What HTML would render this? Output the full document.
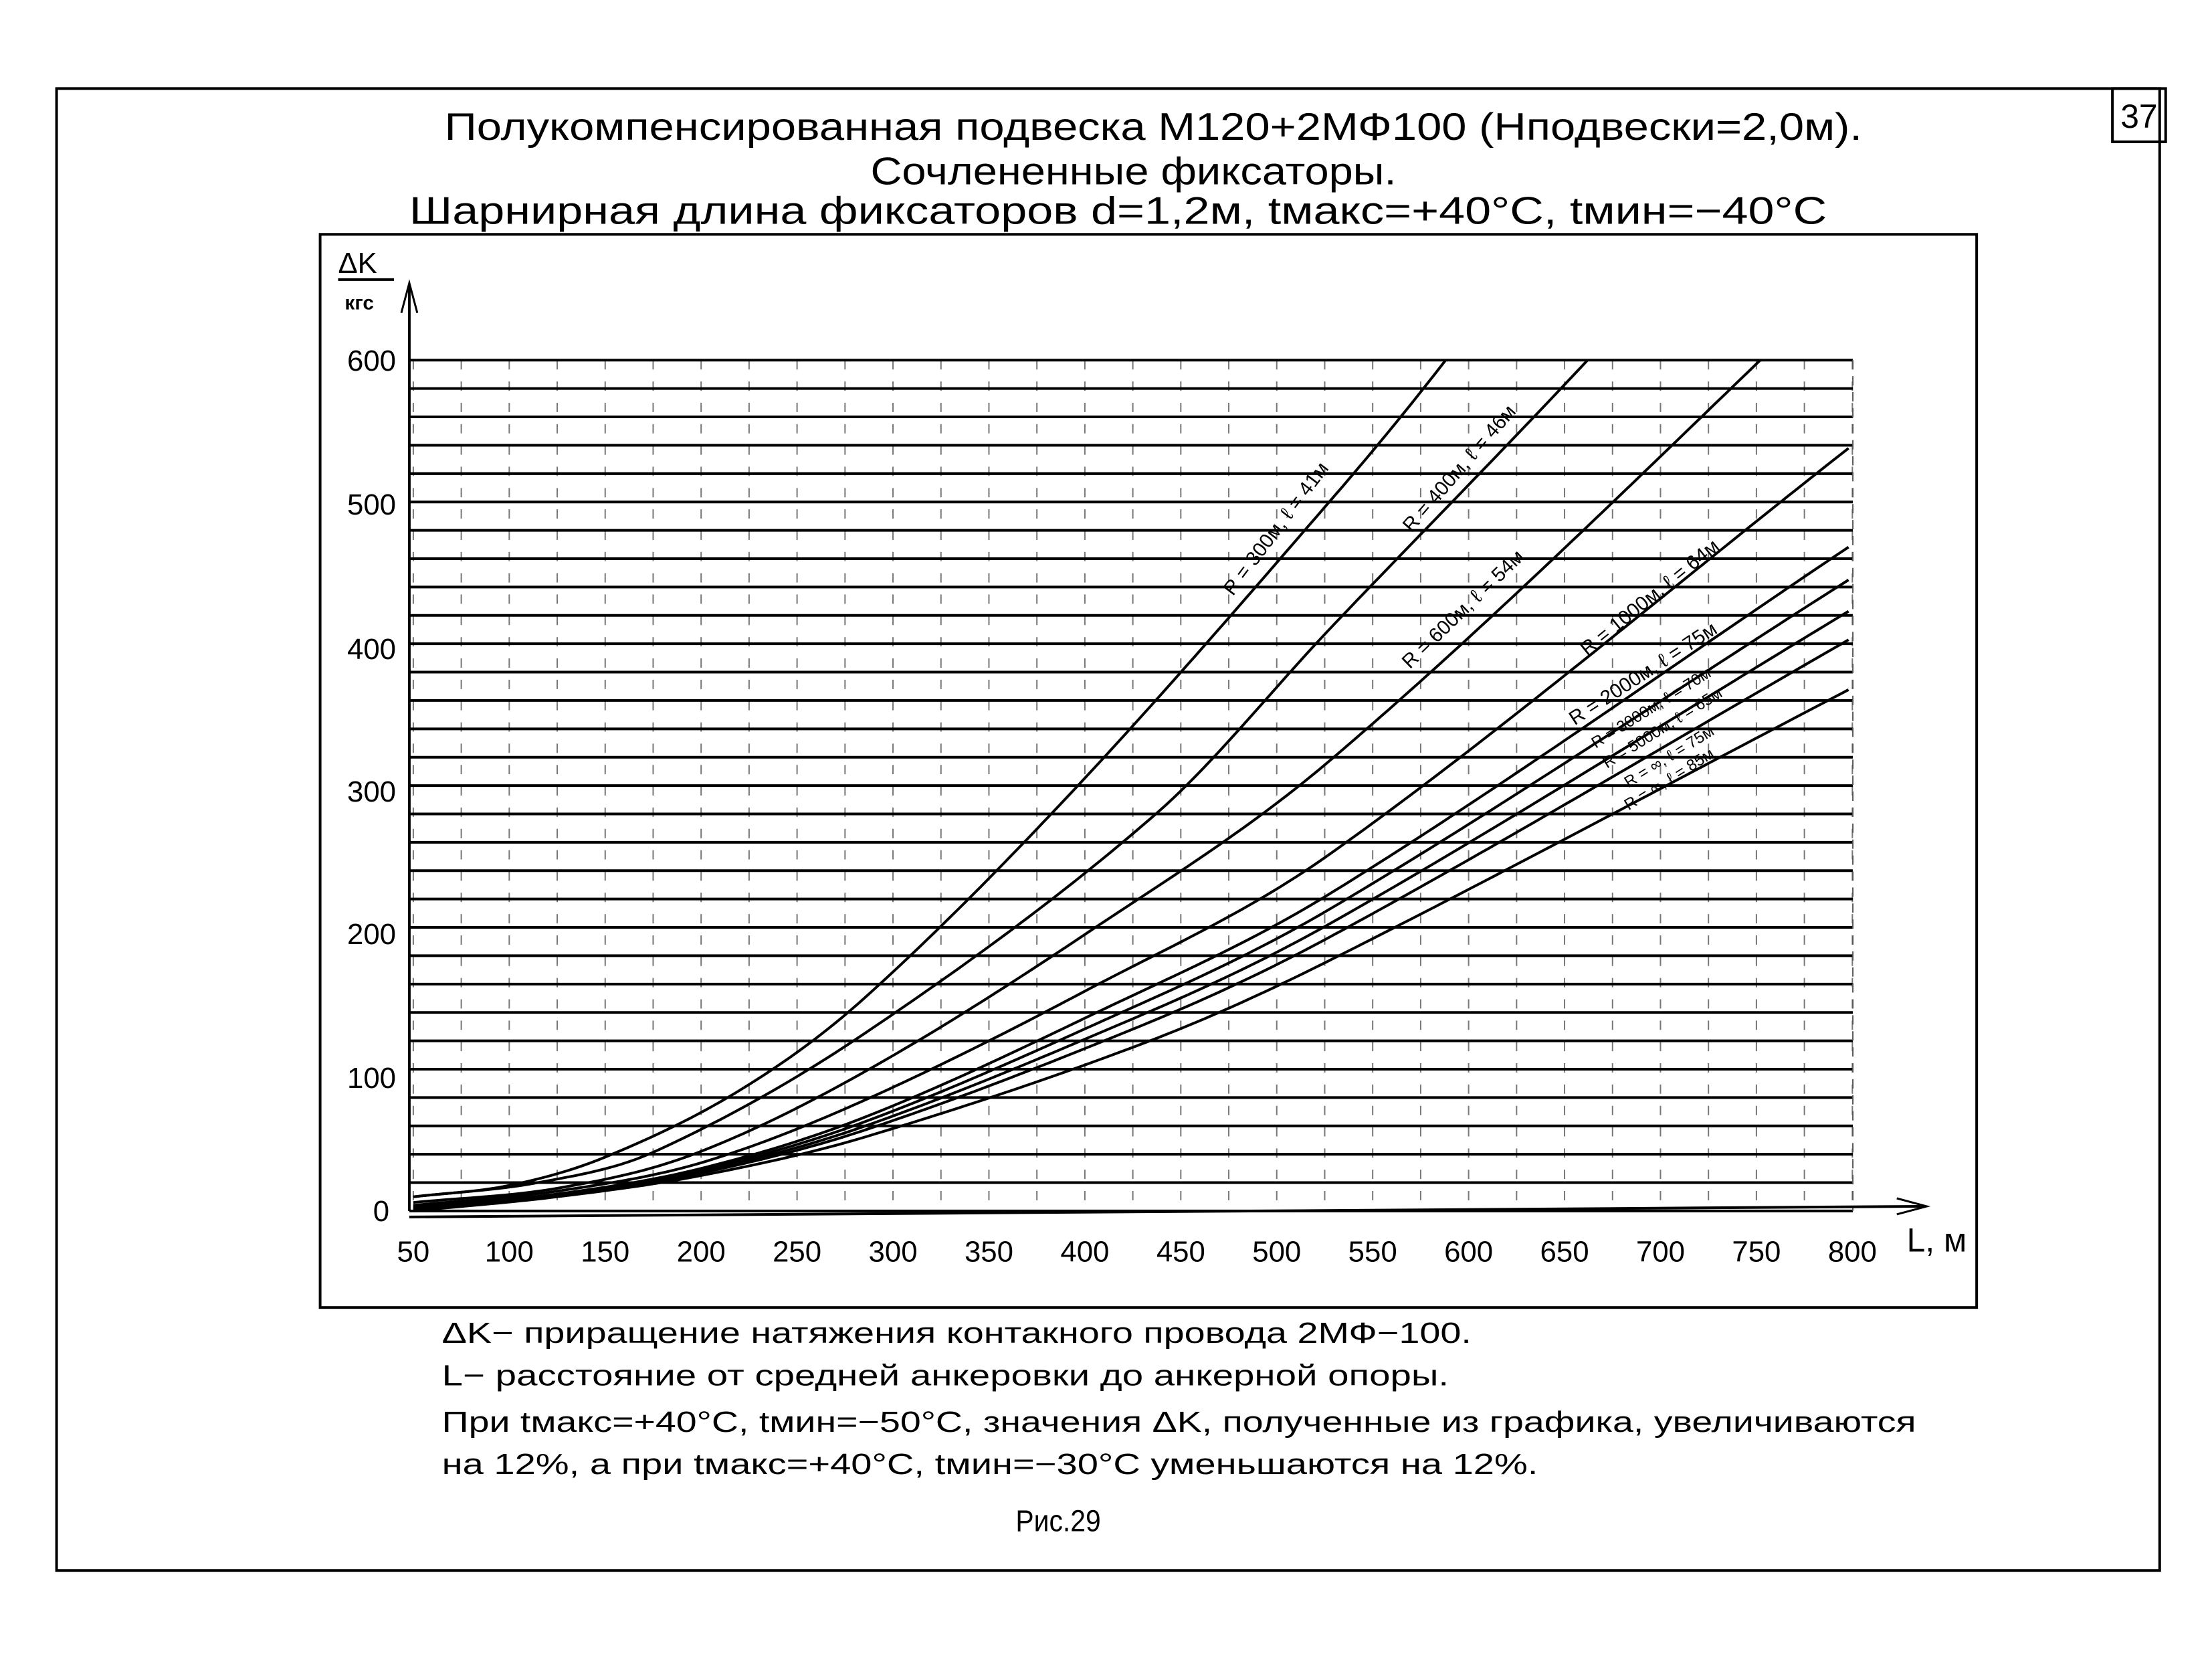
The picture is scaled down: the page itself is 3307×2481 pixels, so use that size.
<!DOCTYPE html>
<html><head><meta charset="utf-8"><style>
html,body{margin:0;padding:0;background:#fff;}
svg{display:block;font-family:"Liberation Sans","DejaVu Sans",sans-serif;}
</style></head><body>
<svg id="s" width="3307" height="2481" viewBox="0 0 3307 2481" xmlns="http://www.w3.org/2000/svg">
<rect x="0" y="0" width="3307" height="2481" fill="#fff"/>
<g transform="scale(0.995)">
<rect x="85" y="133" width="3160" height="2226" fill="none" stroke="#000" stroke-width="4"/>
<rect x="3174" y="133" width="80" height="80" fill="none" stroke="#000" stroke-width="4"/>
<text x="3214" y="192" font-size="50" text-anchor="middle" font-family="Liberation Sans Narrow, Liberation Sans, sans-serif">37</text>
<text x="668" y="210" font-size="58" textLength="2130" lengthAdjust="spacingAndGlyphs">Полукомпенсированная подвеска М120+2МФ100 (Нподвески=2,0м).</text>
<text x="1308" y="277" font-size="58" textLength="790" lengthAdjust="spacingAndGlyphs">Сочлененные фиксаторы.</text>
<text x="615" y="336" font-size="58" textLength="2130" lengthAdjust="spacingAndGlyphs">Шарнирная длина фиксаторов d=1,2м, tмакс=+40°C, tмин=−40°C</text>
<rect x="481" y="352" width="2489" height="1612" fill="none" stroke="#000" stroke-width="4"/>
<g id="grid"></g>
<g id="curves" fill="none" stroke="#000" stroke-width="4"></g>
<line x1="615" y1="1819" x2="615" y2="430" stroke="#000" stroke-width="4"/>
<path d="M603 470 L615 425 L627 470" fill="none" stroke="#000" stroke-width="3"/>
<line x1="615" y1="1828" x2="2890" y2="1812" stroke="#000" stroke-width="4"/>
<path d="M2850 1800 L2895 1812 L2850 1824" fill="none" stroke="#000" stroke-width="3"/>
<text x="508" y="410" font-size="44">ΔK</text>
<line x1="508" y1="420" x2="592" y2="420" stroke="#000" stroke-width="4"/>
<text x="518" y="465" font-size="30" font-weight="bold">кгс</text>
<g font-size="44" text-anchor="end" font-family="Liberation Sans Narrow, Liberation Sans, sans-serif">
<text x="595" y="557">600</text><text x="595" y="773">500</text><text x="595" y="990">400</text>
<text x="595" y="1204">300</text><text x="595" y="1418">200</text><text x="595" y="1634">100</text>
<text x="585" y="1834">0</text>
</g>
<g id="xl" font-size="44" text-anchor="middle" font-family="Liberation Sans Narrow, Liberation Sans, sans-serif"></g>
<text x="2865" y="1880" font-size="50">L, м</text>
<g font-size="30">
<text transform="translate(1925,800) rotate(-53)" text-anchor="middle">R = 300м,  ℓ = 41м</text>
<text transform="translate(2200,710) rotate(-49)" text-anchor="middle">R = 400м,  ℓ = 46м</text>
<text transform="translate(2205,922) rotate(-44)" text-anchor="middle">R = 600м,  ℓ = 54м</text>
<text transform="translate(2485,905) rotate(-39)" text-anchor="middle">R = 1000м,  ℓ = 64м</text>
<text transform="translate(2474,1020) rotate(-33)" text-anchor="middle">R = 2000м,  ℓ = 75м</text>
</g>
<g font-size="24">
<text transform="translate(2485,1070) rotate(-32)" text-anchor="middle">R = 3000м,  ℓ = 70м</text>
<text transform="translate(2502,1100) rotate(-32)" text-anchor="middle">R = 5000м,  ℓ = 65м</text>
<text transform="translate(2512,1143) rotate(-32)" text-anchor="middle">R = ∞,  ℓ = 75м</text>
<text transform="translate(2512,1177) rotate(-32)" text-anchor="middle">R = ∞,  ℓ = 85м</text>
</g>
<g font-size="44">
<text x="664" y="2017" textLength="1547" lengthAdjust="spacingAndGlyphs">ΔK− приращение натяжения контакного провода 2МФ−100.</text>
<text x="664" y="2081" textLength="1513" lengthAdjust="spacingAndGlyphs">L− расстояние от средней анкеровки до анкерной опоры.</text>
<text x="664" y="2151" textLength="2215" lengthAdjust="spacingAndGlyphs">При tмакс=+40°C, tмин=−50°C, значения ΔK, полученные из графика, увеличиваются</text>
<text x="664" y="2214" textLength="1647" lengthAdjust="spacingAndGlyphs">на 12%, а при tмакс=+40°C, tмин=−30°C уменьшаются на 12%.</text>
</g>
<text x="1526" y="2300" font-size="46" textLength="128" lengthAdjust="spacingAndGlyphs" font-family="Liberation Sans Narrow, Liberation Sans, sans-serif">Рис.29</text>
</g>
</svg>
<script>
var NS="http://www.w3.org/2000/svg";
function X(L){return 621+(L-50)*2.883;}
function Y(K){return 1819-K*2.13;}
var g=document.getElementById("grid");
function el(p,t,a){var e=document.createElementNS(NS,t);for(var k in a)e.setAttribute(k,a[k]);p.appendChild(e);return e;}
for(var L=50;L<=800;L+=25){var x=X(L);el(g,"line",{x1:x,y1:Y(600),x2:x,y2:Y(0),stroke:"#777","stroke-width":2,"stroke-dasharray":"14 18"});}
for(var K=0;K<=600;K+=20){el(g,"line",{x1:615,y1:Y(K),x2:2784,y2:Y(K),stroke:"#000","stroke-width":4});}
el(g,"line",{x1:2784,y1:Y(600),x2:2784,y2:Y(0),stroke:"#555","stroke-width":2,"stroke-dasharray":"14 10"});
var xl=document.getElementById("xl");
for(var L=50;L<=800;L+=50){var t=el(xl,"text",{x:X(L),y:1895});t.textContent=L;}
function spline(P,L){
  if(L<=P[0][0])return P[0][1];
  for(var i=0;i<P.length-1;i++){if(L<=P[i+1][0]){
    var p0=P[Math.max(i-1,0)],p1=P[i],p2=P[i+1],p3=P[Math.min(i+2,P.length-1)];
    var h=p2[0]-p1[0],t=(L-p1[0])/h;
    var m1=(p2[1]-p0[1])/(p2[0]-p0[0])*h,m2=(p3[1]-p1[1])/(p3[0]-p1[0])*h;
    var t2=t*t,t3=t2*t;
    return (2*t3-3*t2+1)*p1[1]+(t3-2*t2+t)*m1+(-2*t3+3*t2)*p2[1]+(t3-t2)*m2;}}
  var a=P[P.length-2],b=P[P.length-1];return b[1]+(L-b[0])*(b[1]-a[1])/(b[0]-a[0]);
}
var C=[
 [[50,10],[100,18],[150,38],[220,85],[285,150],[395,298],[528,501],[588,600],[630,680]],
 [[50,10],[115,20],[176,42],[285,125],[437,280],[528,411],[662,600],[700,660]],
 [[50,6],[125,16],[196,40],[285,98],[400,195],[528,318],[752,600],[790,660]],
 [[50,4],[125,14],[200,34],[285,78],[400,155],[528,252],[800,540]],
 [[50,3],[125,12],[200,30],[285,66],[400,136],[528,224],[800,470]]
];
var Rinf=[[50,0],[125,10],[200,25],[285,52],[432,119],[528,177],[800,369]];
var cg=document.getElementById("curves");
function draw(f){var d="";for(var L=50;L<=800;L+=4){var K=f(L);if(K>600){var lo=L-4,hi=L;for(var k=0;k<20;k++){var m=(lo+hi)/2;if(f(m)>600)hi=m;else lo=m;}d+="L"+X(lo).toFixed(1)+" "+Y(600).toFixed(1);break;}d+=(d?"L":"M")+X(L).toFixed(1)+" "+Y(K).toFixed(1);}el(cg,"path",{d:d});}
C.forEach(function(P){draw(function(L){return spline(P,L);});});
[0.23,0.45,0.65,1].forEach(function(w){draw(function(L){return (1-w)*spline(C[4],L)+w*spline(Rinf,L);});});
</script>
</body></html>
